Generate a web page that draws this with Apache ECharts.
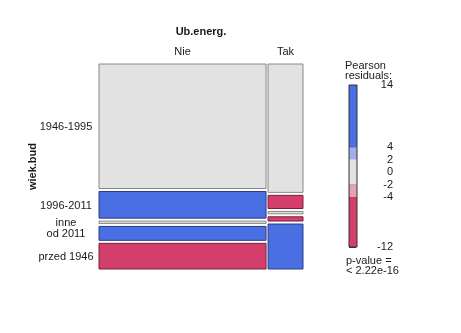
<!DOCTYPE html>
<html><head><meta charset="utf-8">
<script src="https://cdn.jsdelivr.net/npm/echarts@6/dist/echarts.min.js"></script>
<style>html,body{margin:0;padding:0;background:#fff}#c{width:461px;height:333px}</style>
</head><body><div id="c"></div>
<script>
// ---- data ----
const columns = ['Nie', 'Tak'];
const rowLabels = ['1946-1995', '1996-2011', 'inne', 'od 2011', 'przed 1946'];
const columnShare = [0.827, 0.173];
const nieShare = [0.645, 0.138, 0.012, 0.072, 0.133];
const takShare = [0.665, 0.068, 0.012, 0.022, 0.233];
const nieResidual = [-0.6, 6.5, 0.4, 5.2, -6.8];
const takResidual = [1.3, -8.5, -0.9, -6.2, 13.5];
const legendTicks = [14, 4, 2, 0, -2, -4, -12];
const legendBands = [[14, 4], [4, 2], [2, -2], [-2, -4], [-4, -12]];

const FONT = 'Liberation Sans';
const gapX = 0.0099, gapY = 0.0155;

function fillFor(r) {
  if (r > 4) return '#4A6FE3';
  if (r > 2) return '#A2ADE5';
  if (r >= -2) return '#E2E2E2';
  if (r >= -4) return '#E7A1B1';
  return '#D33F6A';
}
function strokeFor(r) {
  if (r > 2) return '#2A3C86';
  if (r >= -2) return '#888888';
  return '#7A1F3E';
}

// build tiles
const shares = [nieShare, takShare];
const resid = [nieResidual, takResidual];
const tiles = [];
let xs = 0;
for (let c = 0; c < columns.length; c++) {
  let ys = 0;
  for (let r = 0; r < rowLabels.length; r++) {
    tiles.push([xs, xs + columnShare[c], ys, ys + shares[c][r], resid[c][r], c, r]);
    ys += shares[c][r] + gapY;
  }
  xs += columnShare[c] + gapX;
}
const xMax = 1 + gapX * (columns.length - 1);
const yMax = 1 + gapY * (rowLabels.length - 1);

const legendData = legendBands.map(b => [b[0], b[1], (b[0] + b[1]) / 2, 0]);
legendData.push([legendTicks[0], legendTicks[legendTicks.length - 1], 0, 1]);

const chart = echarts.init(document.getElementById('c'), null, {renderer: 'canvas'});
chart.setOption({
  animation: false,
  textStyle: {fontFamily: FONT},
  grid: [
    {left: 99, width: 204, top: 64, height: 205},
    {left: 349, width: 8, top: 85, height: 162}
  ],
  xAxis: [
    {gridIndex: 0, type: 'value', min: 0, max: xMax, position: 'top',
     axisLine: {show: false}, axisTick: {show: false}, axisLabel: {show: false}, splitLine: {show: false},
     name: 'Ub.energ.', nameLocation: 'middle', nameGap: 27,
     nameTextStyle: {fontFamily: FONT, fontSize: 11, fontWeight: 'bold', color: '#1a1a1a'}},
    {gridIndex: 1, type: 'value', min: 0, max: 1, show: false}
  ],
  yAxis: [
    {gridIndex: 0, type: 'value', min: 0, max: yMax, inverse: true,
     axisLine: {show: false}, axisTick: {show: false}, axisLabel: {show: false}, splitLine: {show: false},
     name: 'wiek.bud', nameLocation: 'middle', nameRotate: 90, nameGap: 61,
     nameTextStyle: {fontFamily: FONT, fontSize: 11, fontWeight: 'bold', color: '#1a1a1a'}},
    {gridIndex: 1, type: 'value', min: -12, max: 14, position: 'right',
     axisLine: {show: false}, splitLine: {show: false},
     axisTick: {show: true, length: 7, customValues: legendTicks, lineStyle: {color: '#333', width: 1}},
     axisLabel: {show: true, customValues: legendTicks, align: 'right', margin: 36, padding: [4, 0, 0, 0],
       fontFamily: FONT, fontSize: 11, color: '#1a1a1a'}}
  ],
  series: [
    {
      type: 'custom', xAxisIndex: 0, yAxisIndex: 0, data: tiles,
      renderItem: function (params, api) {
        const p0 = api.coord([api.value(0), api.value(2)]);
        const p1 = api.coord([api.value(1), api.value(3)]);
        const r = api.value(4), c = api.value(5), ri = api.value(6);
        const children = [{
          type: 'rect',
          shape: {x: p0[0], y: p0[1], width: p1[0] - p0[0], height: p1[1] - p0[1]},
          style: {fill: fillFor(r), stroke: strokeFor(r), lineWidth: 1}
        }];
        if (c === 0) {
          children.push({
            type: 'text',
            style: {text: rowLabels[ri], x: p0[0] - 33, y: (p0[1] + p1[1]) / 2 + 1,
              align: 'center', verticalAlign: 'middle', fontFamily: FONT, fontSize: 11, fill: '#1a1a1a'}
          });
        }
        if (ri === 0) {
          children.push({
            type: 'text',
            style: {text: columns[c], x: (p0[0] + p1[0]) / 2, y: p0[1] - 12,
              align: 'center', verticalAlign: 'middle', fontFamily: FONT, fontSize: 11, fill: '#1a1a1a'}
          });
        }
        return {type: 'group', children: children};
      }
    },
    {
      type: 'custom', xAxisIndex: 1, yAxisIndex: 1, data: legendData,
      renderItem: function (params, api) {
        const p0 = api.coord([0, api.value(0)]);
        const p1 = api.coord([1, api.value(1)]);
        const outline = api.value(3) === 1;
        return {
          type: 'rect',
          shape: {x: p0[0], y: p0[1], width: p1[0] - p0[0], height: p1[1] - p0[1]},
          style: outline ? {fill: 'none', stroke: '#333', lineWidth: 1}
                         : {fill: fillFor(api.value(2)), stroke: null}
        };
      }
    }
  ],
  graphic: [
    {type: 'text', left: 345, top: 60, style: {text: 'Pearson\nresiduals:', fontFamily: FONT, fontSize: 11, lineHeight: 10, fill: '#1a1a1a'}},
    {type: 'text', left: 346, top: 255, style: {text: 'p-value =\n< 2.22e-16', fontFamily: FONT, fontSize: 11, lineHeight: 10, fill: '#1a1a1a'}}
  ]
});
</script></body></html>
